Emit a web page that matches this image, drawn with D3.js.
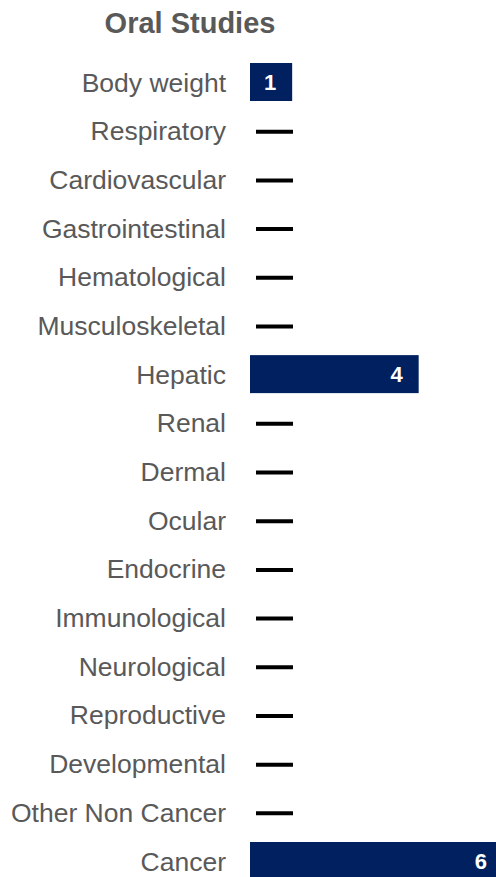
<!DOCTYPE html>
<meta charset='utf-8'>
<head>
    <title>Oral Studies</title>
    <script src='https://d3js.org/d3.v7.min.js'></script>
</head>

<style>
    body { margin: 0; background: #fff; }
    svg { display: block; font-family: 'Liberation Sans', Arial, sans-serif; }
    .cat { fill: #595959; font-size: 26.5px; }
    .title { fill: #595959; font-size: 29px; font-weight: bold; }
    .bar { fill: #002060; }
    .val { fill: #fff; font-size: 22px; font-weight: bold; }
    .dash { stroke: #000; stroke-width: 4px; }
</style>

<svg></svg>

<script>
    var vWidth = 496;
    var vHeight = 877;

    var categories = ['Body weight', 'Respiratory', 'Cardiovascular', 'Gastrointestinal',
        'Hematological', 'Musculoskeletal', 'Hepatic', 'Renal', 'Dermal', 'Ocular',
        'Endocrine', 'Immunological', 'Neurological', 'Reproductive', 'Developmental',
        'Other Non Cancer', 'Cancer'];
    var counts = [1, 0, 0, 0, 0, 0, 4, 0, 0, 0, 0, 0, 0, 0, 0, 0, 6];
    var titleText = 'Oral Studies';

    var svg = d3.select('svg').attr('width', vWidth).attr('height', vHeight);

    // scales
    var y = d3.scalePoint().domain(categories).range([82, 861]);
    var x = d3.scaleLinear().domain([0, 6]).range([250, 503]);
    var barH = 38;

    svg.append('text').attr('class', 'title')
        .attr('x', 190).attr('y', 33)
        .attr('text-anchor', 'middle')
        .text(titleText);

    var rows = svg.selectAll('g.row').data(categories).enter().append('g')
        .attr('class', 'row');

    rows.append('text').attr('class', 'cat')
        .attr('x', 226)
        .attr('y', function (d) { return y(d); })
        .attr('dy', '0.36em')
        .attr('text-anchor', 'end')
        .text(function (d) { return d; });

    // bars for non-zero counts
    rows.filter(function (d, i) { return counts[i] > 0; })
        .append('rect').attr('class', 'bar')
        .attr('x', x(0))
        .attr('y', function (d) { return y(d) - barH / 2; })
        .attr('width', function (d) { return x(counts[categories.indexOf(d)]) - x(0); })
        .attr('height', barH);

    rows.filter(function (d, i) { return counts[i] > 0; })
        .append('text').attr('class', 'val')
        .attr('x', function (d) { return x(counts[categories.indexOf(d)]) - 16; })
        .attr('y', function (d) { return y(d); })
        .attr('dy', '0.36em')
        .attr('text-anchor', 'end')
        .text(function (d) { return counts[categories.indexOf(d)]; });

    // dash for zero counts
    rows.filter(function (d, i) { return counts[i] === 0; })
        .append('line').attr('class', 'dash')
        .attr('x1', x(0) + 6).attr('x2', x(0) + 43)
        .attr('y1', function (d) { return y(d) + 1; })
        .attr('y2', function (d) { return y(d) + 1; });
</script>
